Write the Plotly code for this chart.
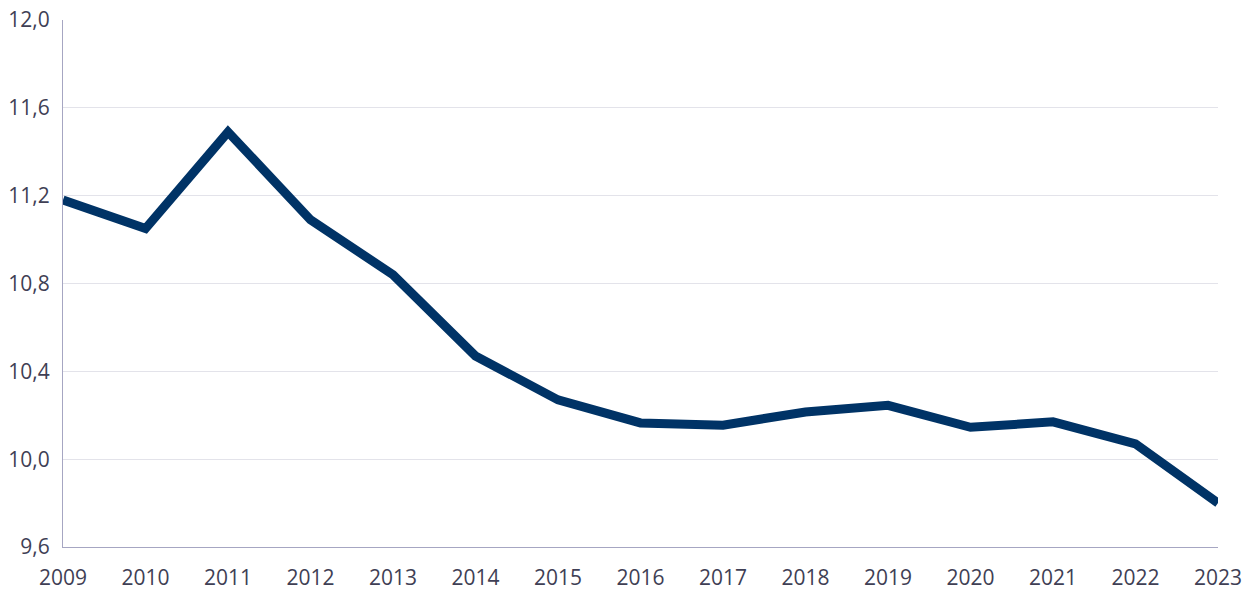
import plotly.graph_objects as go

years = list(range(2009, 2024))
values = [11.18, 11.05, 11.49, 11.09, 10.84, 10.47, 10.27, 10.165, 10.155, 10.215, 10.245, 10.145, 10.17, 10.07, 9.80]
y_ticks = [9.6, 10.0, 10.4, 10.8, 11.2, 11.6, 12.0]

fig = go.Figure()
fig.add_trace(go.Scatter(
    x=years, y=values, mode="lines",
    line=dict(color="#003366", width=9),
    hoverinfo="x+y",
))

font_color = "#3f3f55"
fig.update_layout(
    width=1257, height=598,
    margin=dict(l=55, r=47, t=12, b=59),
    paper_bgcolor="white", plot_bgcolor="white",
    separators=",.",
    showlegend=False,
    font=dict(family="Open Sans", size=21, color=font_color),
)
fig.update_xaxes(
    range=[2009, 2023], tickvals=years, ticktext=[str(y) for y in years],
    showgrid=False, showline=True, linecolor="#a6a6c2", linewidth=1,
    ticks="", zeroline=False, automargin=False, ticklabelstandoff=12,
    ticklabeloverflow="allow",
    tickfont=dict(size=21, color=font_color),
)
fig.update_yaxes(
    range=[9.6, 12.0], tickvals=y_ticks, tickformat=".1f",
    showgrid=True, gridcolor="#e3e3ea", gridwidth=1,
    showline=True, linecolor="#a6a6c2", linewidth=1,
    ticks="", ticklen=0, zeroline=False, automargin=False, ticklabelstandoff=8,
    ticklabeloverflow="allow",
    tickfont=dict(size=21, color=font_color),
)
fig.write_html("out.html")
